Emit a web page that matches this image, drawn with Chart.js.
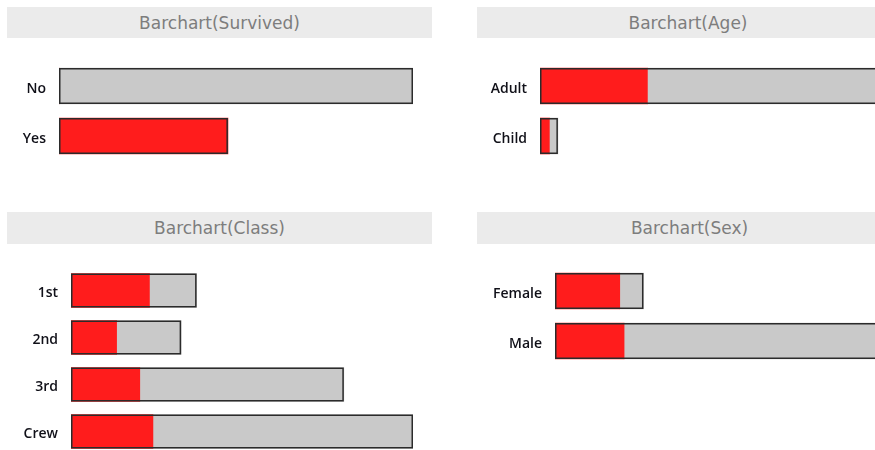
<!DOCTYPE html>
<html>
<head>
<meta charset="utf-8">
<script src="https://cdn.jsdelivr.net/npm/chart.js@4.4.0/dist/chart.umd.min.js"></script>
<style>
    html, body { margin: 0; padding: 0; background: #fff; }
    body { width: 875px; height: 450px; position: relative; overflow: hidden; }
    .band {
        position: absolute;
        background: #ebebeb;
        color: #7d7d7d;
        font: 17px "DejaVu Sans", sans-serif;
        display: flex;
        align-items: center;
        justify-content: center;
    }
    .panel { position: absolute; }
</style>
</head>
<body>
<div class="band" style="left:7px;top:7px;width:425px;height:31px;">Barchart(Survived)</div>
<div class="band" style="left:477px;top:7px;width:422px;height:31px;">Barchart(Age)</div>
<div class="band" style="left:7px;top:212px;width:425px;height:32px;">Barchart(Class)</div>
<div class="band" style="left:477px;top:212px;width:425px;height:32px;">Barchart(Sex)</div>

<div class="panel" style="left:0;top:50px;width:420px;height:120px;"><canvas id="survivedChart"></canvas></div>
<div class="panel" style="left:440px;top:50px;width:435px;height:120px;"><canvas id="ageChart"></canvas></div>
<div class="panel" style="left:0;top:250px;width:420px;height:210px;"><canvas id="classChart"></canvas></div>
<div class="panel" style="left:440px;top:250px;width:435px;height:130px;"><canvas id="sexChart"></canvas></div>

<script>
// Titanic passengers: survived (red) vs did not survive (grey)
const survivedLabels = ['No', 'Yes'];
const survivedYes = [0, 711];
const survivedNo = [1490, 0];

const ageLabels = ['Adult', 'Child'];
const ageYes = [654, 57];
const ageNo = [1438, 52];

const classLabels = ['1st', '2nd', '3rd', 'Crew'];
const classYes = [203, 118, 178, 212];
const classNo = [122, 167, 528, 673];

const sexLabels = ['Female', 'Male'];
const sexYes = [344, 367];
const sexNo = [126, 1364];

const RED = '#ff1c1c';
const GREY = '#c9c9c9';
const EDGE = '#2b2b2b';

Chart.defaults.animation = false;

// black frame round each whole (stacked) bar
const barOutline = {
    id: 'barOutline',
    afterDatasetsDraw(chart) {
        const ctx = chart.ctx;
        const xs = chart.scales.x;
        const meta = chart.getDatasetMeta(0);
        const ds = chart.data.datasets;
        ctx.save();
        ctx.strokeStyle = EDGE;
        ctx.lineWidth = 1.5;
        meta.data.forEach((bar, i) => {
            const total = ds[0].data[i] + ds[1].data[i];
            const x0 = xs.getPixelForValue(0);
            const x1 = xs.getPixelForValue(total);
            const half = bar.height / 2;
            ctx.strokeRect(x0 + 0.75, bar.y - half + 0.75, x1 - x0 - 1.5, bar.height - 1.5);
        });
        ctx.restore();
    }
};

function makeBarchart(id, labels, yes, no, opts) {
    return new Chart(document.getElementById(id), {
        type: 'bar',
        data: {
            labels: labels,
            datasets: [
                { data: yes, backgroundColor: RED, borderWidth: 0, barThickness: opts.thickness },
                { data: no, backgroundColor: GREY, borderWidth: 0, barThickness: opts.thickness }
            ]
        },
        options: {
            indexAxis: 'y',
            responsive: true,
            maintainAspectRatio: false,
            layout: { padding: { left: 0, right: opts.padRight, top: opts.padTop, bottom: opts.padBottom } },
            plugins: { legend: { display: false }, tooltip: { enabled: false }, title: { display: false } },
            scales: {
                x: { display: false, stacked: true, min: 0, max: opts.max },
                y: {
                    stacked: true,
                    border: { display: false },
                    grid: { display: false, drawTicks: false },
                    ticks: {
                        padding: 13,
                        labelOffset: 3,
                        color: '#101018',
                        font: { family: 'Open Sans', size: 14, weight: 600 }
                    },
                    afterFit: scale => {
                        scale.width = opts.axisWidth;
                        scale.paddingTop = 0;
                        scale.paddingBottom = 0;
                    }
                }
            }
        },
        plugins: [barOutline]
    });
}

makeBarchart('survivedChart', survivedLabels, survivedYes, survivedNo,
    { max: 1490, axisWidth: 59, padRight: 7, padTop: 11, padBottom: 9, thickness: 36 });
makeBarchart('ageChart', ageLabels, ageYes, ageNo,
    { max: 2040, axisWidth: 100, padRight: 0, padTop: 11, padBottom: 9, thickness: 36 });
makeBarchart('classChart', classLabels, classYes, classNo,
    { max: 885, axisWidth: 71, padRight: 7, padTop: 17, padBottom: 5, thickness: 34 });
makeBarchart('sexChart', sexLabels, sexYes, sexNo,
    { max: 1700, axisWidth: 115, padRight: 0, padTop: 16, padBottom: 14, thickness: 36 });
</script>
</body>
</html>
